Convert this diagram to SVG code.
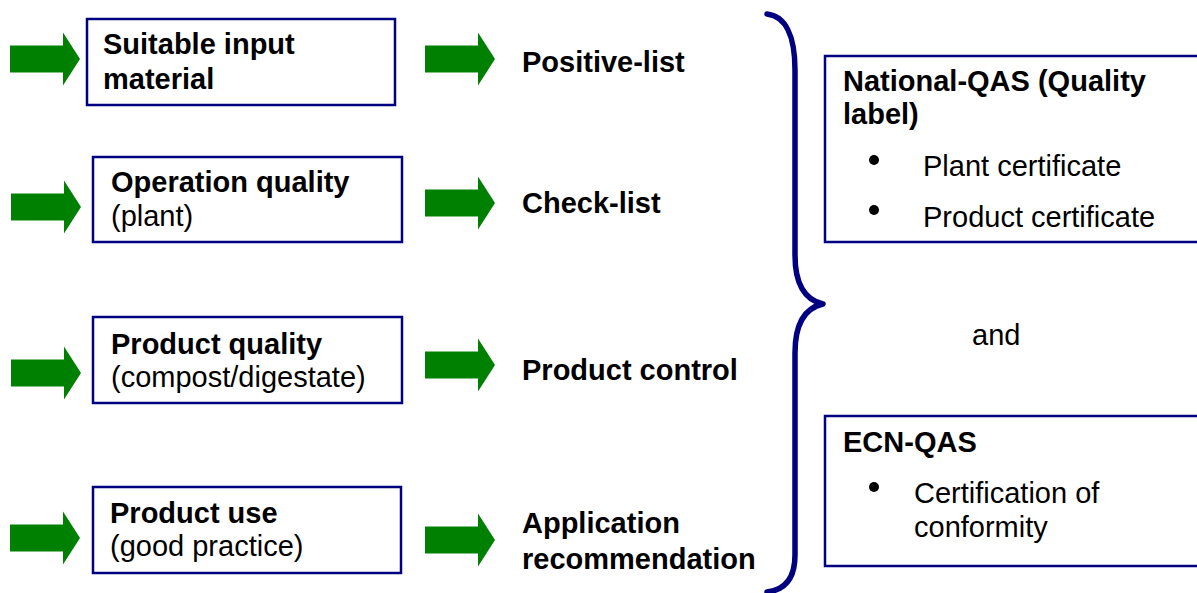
<svg xmlns="http://www.w3.org/2000/svg" width="1197" height="593" viewBox="0 0 1197 593">
  <defs>
    <!-- block arrow: 53x27 shaft, 17px head, 53px tall head; origin at left-middle -->
    <path id="blockArrow" d="M0 -13.5 H53 V-26.5 L70 0 L53 26.5 V13.5 H0 Z"/>
  </defs>
  <style>
    .box { fill: #ffffff; stroke: #000080; stroke-width: 2.5; }
    .arrow { fill: #008000; }
    .brace { fill: none; stroke: #000080; stroke-width: 5.5; stroke-linecap: round; stroke-linejoin: round; }
    text { font-family: "Liberation Sans", Arial, sans-serif; font-size: 29px; fill: #000000; }
    .b { font-weight: bold; }
    .bullet { fill: #000000; }
  </style>
  <rect width="1197" height="593" fill="#ffffff"/>

  <!-- connectors: input arrows and step arrows -->
  <g id="connectors">
    <use href="#blockArrow" class="arrow" x="10" y="59"/>
    <use href="#blockArrow" class="arrow" x="11" y="207"/>
    <use href="#blockArrow" class="arrow" x="11" y="373"/>
    <use href="#blockArrow" class="arrow" x="10" y="538"/>
    <use href="#blockArrow" class="arrow" x="425" y="59"/>
    <use href="#blockArrow" class="arrow" x="425" y="203"/>
    <use href="#blockArrow" class="arrow" x="425" y="365"/>
    <use href="#blockArrow" class="arrow" x="425" y="540"/>
    <path id="brace" class="brace" d="M767 14 C785 16 795 35 795 70 L795 255 C795 285 805 300 823 304 C805 308 795 323 795 353 L795 555 C795 578 785 590 767 592"/>
  </g>

  <!-- left column: requirement boxes -->
  <g id="node-input">
    <rect class="box" x="87" y="19" width="308" height="86"/>
    <text class="b" x="103" y="54">Suitable input</text>
    <text class="b" x="103" y="89">material</text>
  </g>
  <g id="node-operation">
    <rect class="box" x="93" y="157" width="309" height="85"/>
    <text class="b" x="111" y="192">Operation quality</text>
    <text x="111" y="226">(plant)</text>
  </g>
  <g id="node-product-quality">
    <rect class="box" x="93" y="317" width="309" height="86"/>
    <text class="b" x="111" y="354">Product quality</text>
    <text x="111" y="387">(compost/digestate)</text>
  </g>
  <g id="node-product-use">
    <rect class="box" x="93" y="487" width="308" height="86"/>
    <text class="b" x="110" y="523">Product use</text>
    <text x="110" y="556">(good practice)</text>
  </g>

  <!-- middle column: instruments -->
  <g id="node-positive-list">
    <text class="b" x="522" y="72">Positive-list</text>
  </g>
  <g id="node-check-list">
    <text class="b" x="522" y="213">Check-list</text>
  </g>
  <g id="node-product-control">
    <text class="b" x="522" y="380">Product control</text>
  </g>
  <g id="node-application">
    <text class="b" x="522" y="533">Application</text>
    <text class="b" x="522" y="569">recommendation</text>
  </g>

  <!-- right column: assurance schemes -->
  <g id="node-national-qas">
    <rect class="box" x="825" y="56" width="385" height="186"/>
    <text class="b" x="843" y="91">National-QAS (Quality</text>
    <text class="b" x="843" y="124">label)</text>
    <circle class="bullet" cx="874" cy="160" r="5"/>
    <text x="923" y="176">Plant certificate</text>
    <circle class="bullet" cx="874" cy="210" r="5"/>
    <text x="923" y="227">Product certificate</text>
  </g>
  <g id="node-and">
    <text x="972" y="345">and</text>
  </g>
  <g id="node-ecn-qas">
    <rect class="box" x="825" y="416" width="385" height="150"/>
    <text class="b" x="843" y="452">ECN-QAS</text>
    <circle class="bullet" cx="874" cy="487" r="5"/>
    <text x="914" y="503">Certification of</text>
    <text x="914" y="537">conformity</text>
  </g>
</svg>
